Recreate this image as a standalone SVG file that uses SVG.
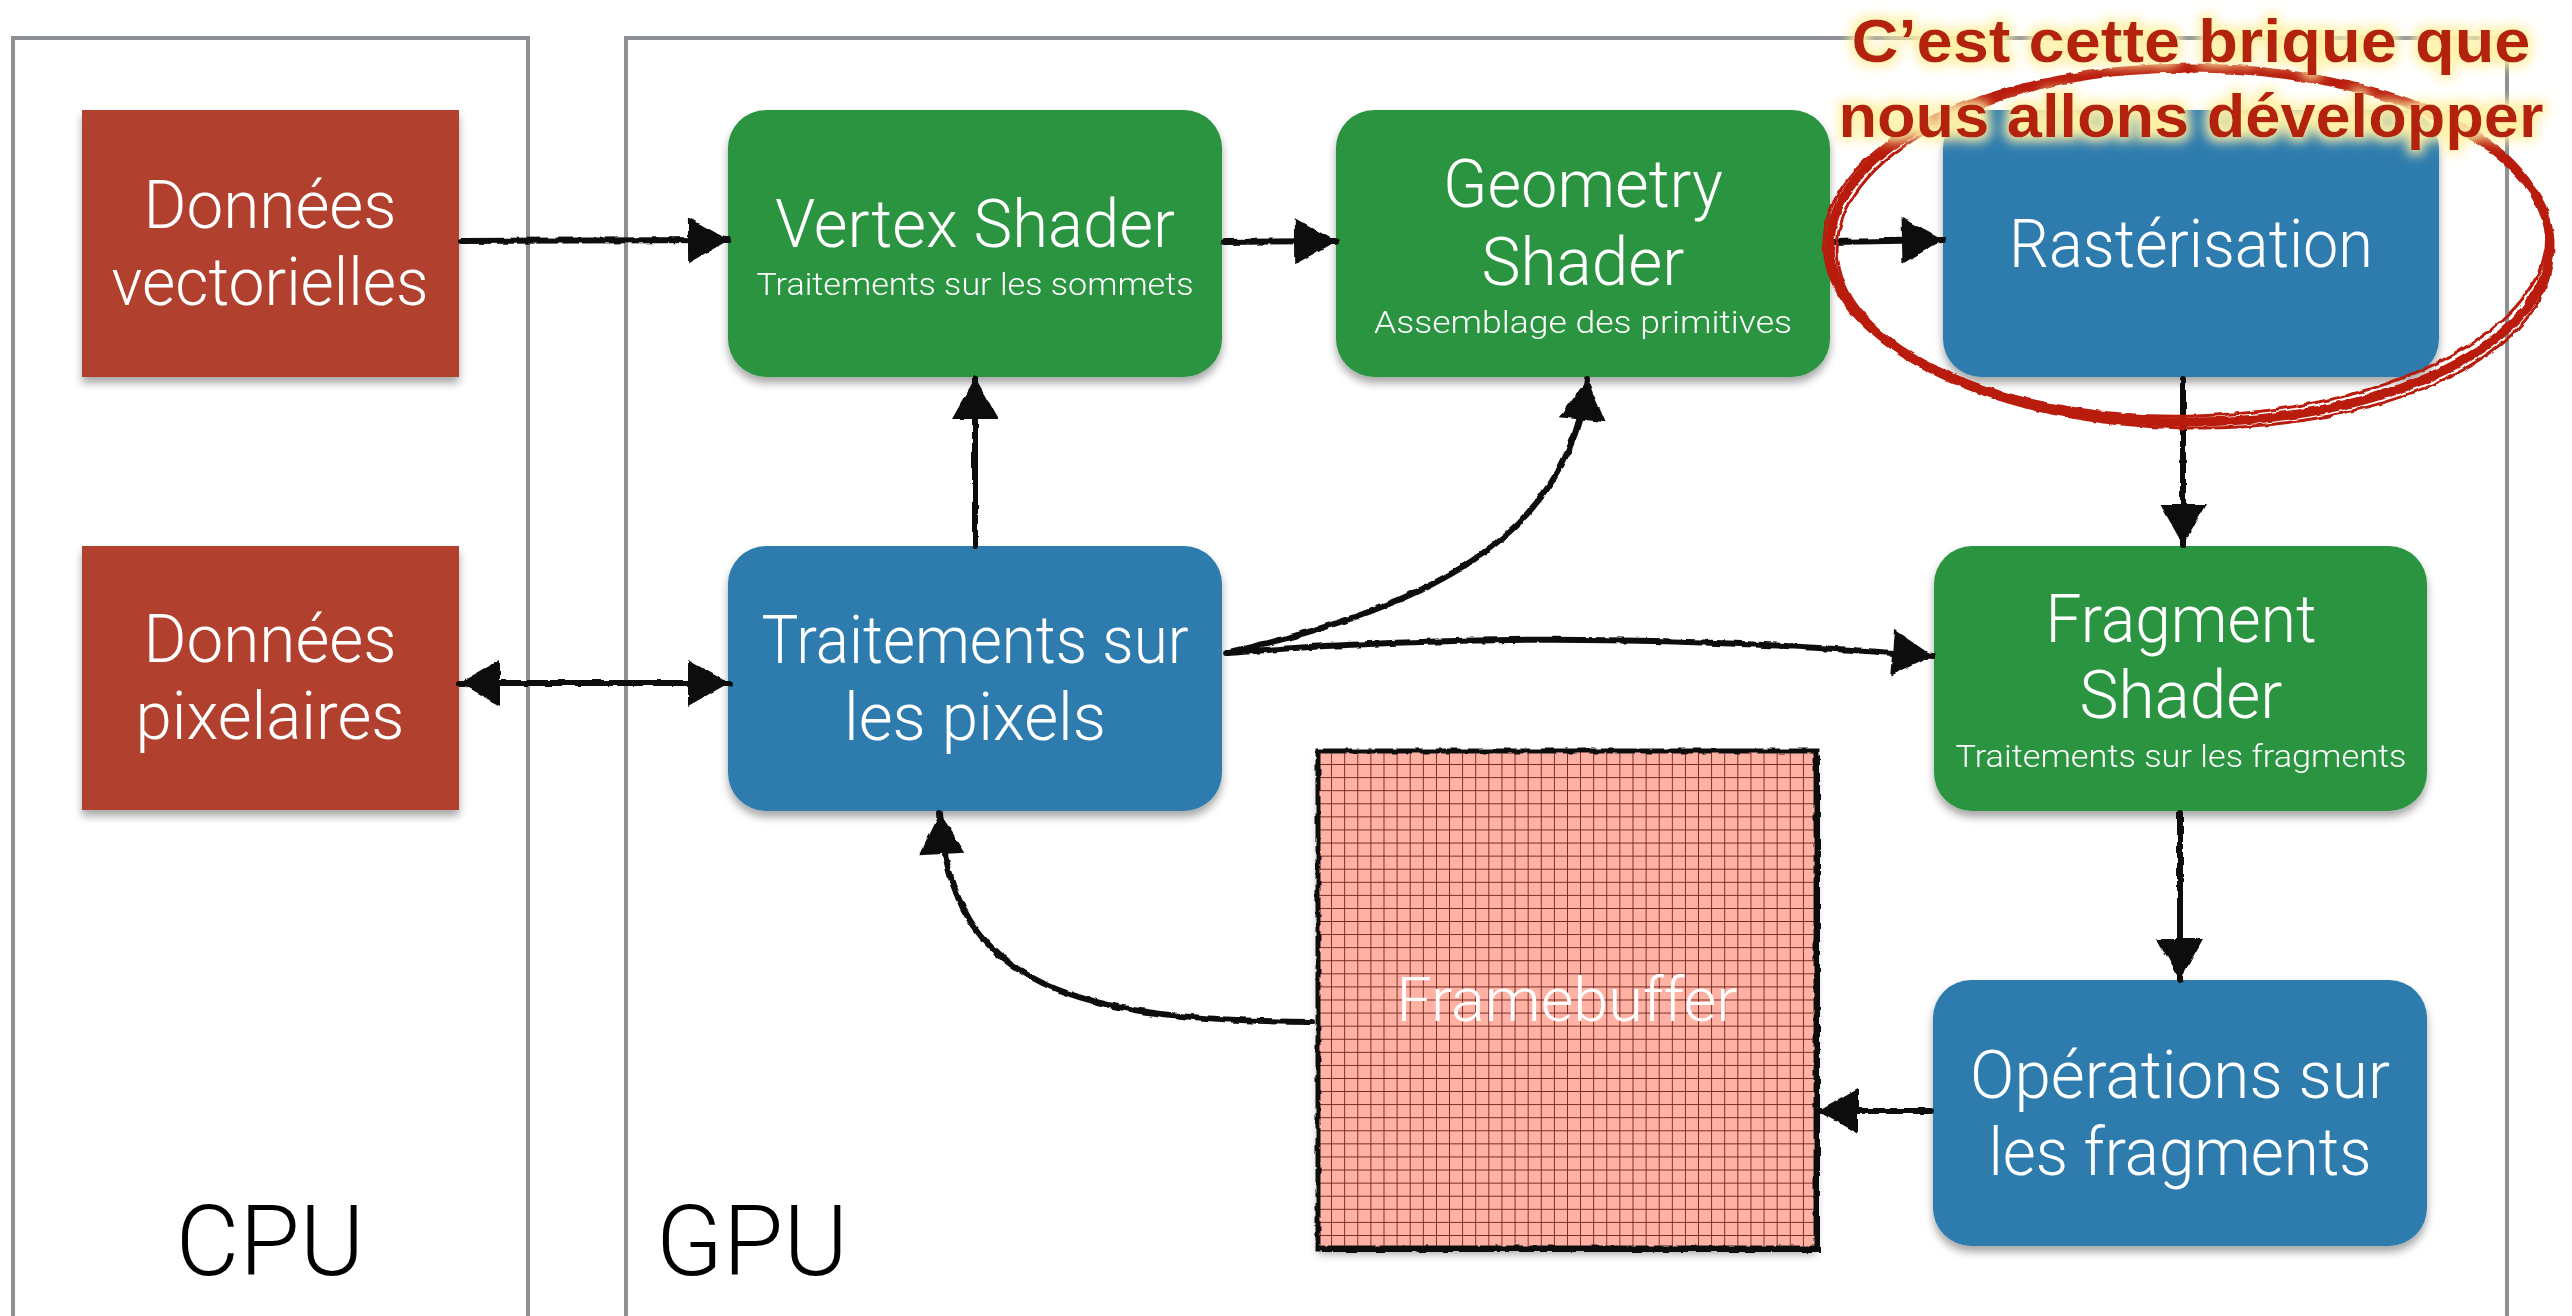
<svg xmlns="http://www.w3.org/2000/svg" width="2572" height="1316" viewBox="0 0 2572 1316">
  <defs>
    <style>
      .panel { fill: none; stroke: #8d9095; stroke-width: 4; }
      .red { fill: #b1402d; }
      .green { fill: #2b9441; }
      .blue { fill: #2d7cae; }
      .lbl { font-family: "Roboto", "Liberation Sans", sans-serif; font-weight: 300; fill: #ffffff; text-anchor: middle; }
      .big { font-size: 66px; }
      .sub { font-size: 32px; }
      .zone { font-family: "Roboto", "Liberation Sans", sans-serif; font-weight: 300; font-size: 98px; fill: #000000; text-anchor: middle; }
      .wire { fill: none; stroke: #111111; stroke-width: 6; stroke-linecap: round; }
      .note { font-family: "Liberation Sans", "Arial", sans-serif; font-weight: 700; font-size: 62px; fill: #b2200d; text-anchor: middle; }
      .ring { fill: none; stroke: #b91d0d; stroke-linecap: round; }
    </style>
    <filter id="shadow" x="-10%" y="-10%" width="120%" height="130%">
      <feDropShadow dx="0" dy="6" stdDeviation="4" flood-color="#000" flood-opacity="0.35"/>
    </filter>
    <filter id="rough" filterUnits="userSpaceOnUse" x="0" y="0" width="2572" height="1316">
      <feTurbulence type="fractalNoise" baseFrequency="0.09" numOctaves="2" seed="3" result="n"/>
      <feDisplacementMap in="SourceGraphic" in2="n" scale="4" xChannelSelector="R" yChannelSelector="G"/>
    </filter>
    <filter id="glow" x="-5%" y="-25%" width="110%" height="150%">
      <feMorphology in="SourceAlpha" operator="dilate" radius="4" result="d"/>
      <feGaussianBlur in="d" stdDeviation="6" result="b"/>
      <feFlood flood-color="#fff1a6" flood-opacity="1"/>
      <feComposite in2="b" operator="in" result="halo"/>
      <feMerge>
        <feMergeNode in="halo"/>
        <feMergeNode in="SourceGraphic"/>
      </feMerge>
    </filter>
    <marker id="head" markerUnits="userSpaceOnUse" markerWidth="44" markerHeight="48" refX="42" refY="24" orient="auto-start-reverse">
      <path d="M1,1 L42,24 L1,47 Z" fill="#111111"/>
    </marker>
    <pattern id="cells" patternUnits="userSpaceOnUse" x="1318" y="751" width="13.105" height="13.08">
      <rect width="13.105" height="13.08" fill="#ffb1a4"/>
      <path d="M0,0 H13.105 M0,0 V13.08" stroke="#6f241b" stroke-width="1.8"/>
    </pattern>
  </defs>

  <rect width="2572" height="1316" fill="#ffffff"/>

  <!-- CPU and GPU zones, open at the bottom -->
  <g id="zone-cpu">
    <path class="panel" d="M13,1316 V38 H528 V1316"/>
    <text class="zone" x="270" y="1275">CPU</text>
  </g>
  <g id="zone-gpu">
    <path class="panel" d="M626,1316 V38 H2507 V1316"/>
    <text class="zone" x="752" y="1275">GPU</text>
  </g>

  <!-- CPU side data -->
  <g id="node-donnees-vectorielles" filter="url(#shadow)">
    <rect class="red" x="82" y="110" width="377" height="267"/>
    <text class="lbl big" x="270" y="228" textLength="253" lengthAdjust="spacingAndGlyphs">Données</text>
    <text class="lbl big" x="270" y="305" textLength="317" lengthAdjust="spacingAndGlyphs">vectorielles</text>
  </g>
  <g id="node-donnees-pixelaires" filter="url(#shadow)">
    <rect class="red" x="82" y="546" width="377" height="264"/>
    <text class="lbl big" x="270" y="662" textLength="253" lengthAdjust="spacingAndGlyphs">Données</text>
    <text class="lbl big" x="270" y="739" textLength="269" lengthAdjust="spacingAndGlyphs">pixelaires</text>
  </g>

  <!-- GPU pipeline stages -->
  <g id="node-vertex-shader" filter="url(#shadow)">
    <rect class="green" x="728" y="110" width="494" height="267" rx="38"/>
    <text class="lbl big" x="975" y="247" textLength="400" lengthAdjust="spacingAndGlyphs">Vertex Shader</text>
    <text class="lbl sub" x="975" y="295" textLength="437" lengthAdjust="spacingAndGlyphs">Traitements sur les sommets</text>
  </g>
  <g id="node-geometry-shader" filter="url(#shadow)">
    <rect class="green" x="1336" y="110" width="494" height="267" rx="38"/>
    <text class="lbl big" x="1583" y="207" textLength="280" lengthAdjust="spacingAndGlyphs">Geometry</text>
    <text class="lbl big" x="1583" y="285" textLength="203" lengthAdjust="spacingAndGlyphs">Shader</text>
    <text class="lbl sub" x="1583" y="333" textLength="418" lengthAdjust="spacingAndGlyphs">Assemblage des primitives</text>
  </g>
  <g id="node-rasterisation" filter="url(#shadow)">
    <rect class="blue" x="1943" y="110" width="496" height="267" rx="38"/>
    <text class="lbl big" x="2191" y="267" textLength="364" lengthAdjust="spacingAndGlyphs">Rastérisation</text>
  </g>
  <g id="node-traitements-pixels" filter="url(#shadow)">
    <rect class="blue" x="728" y="546" width="494" height="265" rx="38"/>
    <text class="lbl big" x="975" y="663" textLength="427" lengthAdjust="spacingAndGlyphs">Traitements sur</text>
    <text class="lbl big" x="975" y="740" textLength="262" lengthAdjust="spacingAndGlyphs">les pixels</text>
  </g>
  <g id="node-fragment-shader" filter="url(#shadow)">
    <rect class="green" x="1934" y="546" width="493" height="265" rx="38"/>
    <text class="lbl big" x="2181" y="642" textLength="271" lengthAdjust="spacingAndGlyphs">Fragment</text>
    <text class="lbl big" x="2181" y="718" textLength="203" lengthAdjust="spacingAndGlyphs">Shader</text>
    <text class="lbl sub" x="2181" y="767" textLength="451" lengthAdjust="spacingAndGlyphs">Traitements sur les fragments</text>
  </g>
  <g id="node-operations-fragments" filter="url(#shadow)">
    <rect class="blue" x="1933" y="980" width="494" height="266" rx="38"/>
    <text class="lbl big" x="2180" y="1098" textLength="420" lengthAdjust="spacingAndGlyphs">Opérations sur</text>
    <text class="lbl big" x="2180" y="1175" textLength="383" lengthAdjust="spacingAndGlyphs">les fragments</text>
  </g>
  <g id="node-framebuffer">
    <rect x="1318" y="751" width="498" height="497" fill="url(#cells)" filter="url(#shadow)"/>
    <rect x="1318" y="751" width="498" height="497" fill="none" stroke="#111111" stroke-width="5" filter="url(#rough)"/>
    <path d="M1816,753 V1248 H1320" fill="none" stroke="#111111" stroke-width="4" transform="translate(2,2)" filter="url(#rough)"/>
    <text class="lbl" x="1567" y="1021" font-size="62" textLength="341" lengthAdjust="spacingAndGlyphs">Framebuffer</text>
  </g>

  <!-- data flow -->
  <g id="connectors" filter="url(#rough)">
    <path class="wire" d="M461,241 L729,240" marker-end="url(#head)"/>
    <path class="wire" d="M1224,242 L1336,241" marker-end="url(#head)"/>
    <path class="wire" d="M1832,242 L1943,240" marker-end="url(#head)"/>
    <path class="wire" d="M2183,379 L2183,545" marker-end="url(#head)"/>
    <path class="wire" d="M2180,813 L2180,980" marker-end="url(#head)"/>
    <path class="wire" d="M1931,1111 L1817,1111" marker-end="url(#head)"/>
    <path class="wire" d="M1312,1022 C1080,1020 950,990 940,813" marker-end="url(#head)"/>
    <path class="wire" d="M1226,653 C1420,610 1570,540 1587,379" marker-end="url(#head)"/>
    <path class="wire" d="M1228,653 Q1560,625 1933,656" marker-end="url(#head)"/>
    <path class="wire" d="M975,545 L975,378" marker-end="url(#head)"/>
    <path class="wire" d="M459,683 L729,683" marker-start="url(#head)" marker-end="url(#head)"/>
  </g>

  <!-- highlight of the stage studied next -->
  <g id="callout">
    <g filter="url(#rough)">
      <ellipse class="ring" cx="2190" cy="245" rx="360" ry="177" stroke-width="9"/>
      <ellipse class="ring" cx="2192" cy="242" rx="355" ry="174" stroke-width="3" transform="rotate(-1.5 2192 242)"/>
      <ellipse class="ring" cx="2188" cy="248" rx="364" ry="180" stroke-width="3" transform="rotate(1 2188 248)"/>
    </g>
    <g filter="url(#glow)">
      <text class="note" x="2191" y="62" textLength="679" lengthAdjust="spacingAndGlyphs">C’est cette brique que</text>
      <text class="note" x="2191" y="137" textLength="705" lengthAdjust="spacingAndGlyphs">nous allons développer</text>
    </g>
  </g>
</svg>
